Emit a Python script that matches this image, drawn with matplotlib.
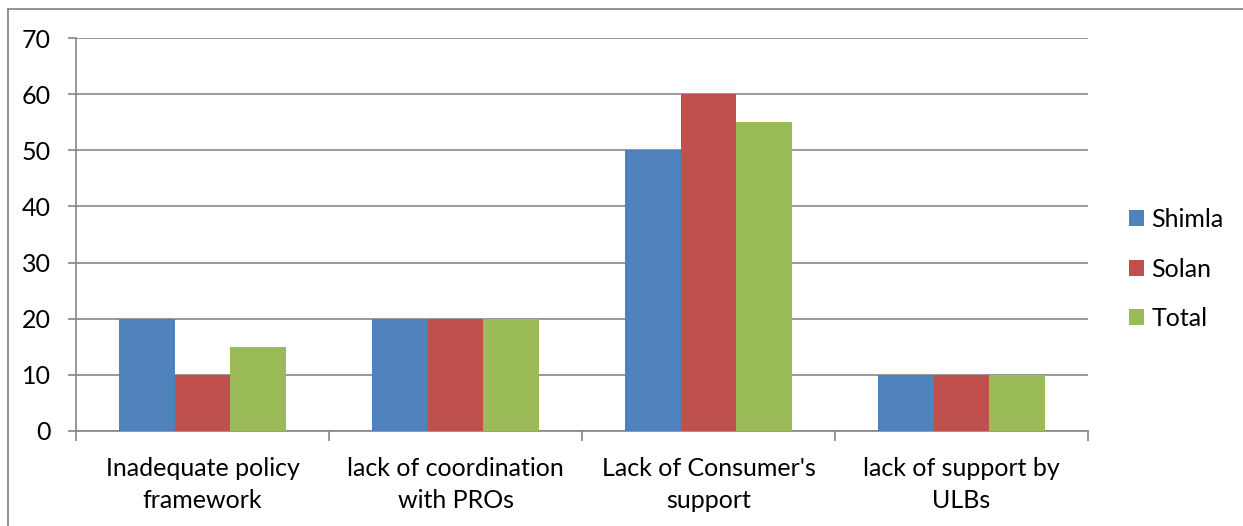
import numpy as np
import matplotlib
matplotlib.use("Agg")
import matplotlib.pyplot as plt
from matplotlib.lines import Line2D

plt.rcParams['font.family'] = ['Lato', 'DejaVu Sans']

categories = ["Inadequate policy\nframework", "lack of coordination\nwith PROs",
              "Lack of Consumer's\nsupport", "lack of support by\nULBs"]
series_names = ["Shimla", "Solan", "Total"]
shimla = [20, 20, 50, 10]
solan = [10, 20, 60, 10]
total = [15, 20, 55, 10]
colors = ["#4F81BD", "#C0504D", "#9BBB59"]
yticks = [0, 10, 20, 30, 40, 50, 60, 70]

W, H = 1243, 526
FS = 18
fig = plt.figure(figsize=(W / 100, H / 100), dpi=100)
fig.patch.set_facecolor("white")

# outer chart frame (left and top edges)
fig.add_artist(Line2D([8 / W, 8 / W], [0, 1 - 9 / H], color="#7f7f7f", lw=1.2,
                      transform=fig.transFigure))
fig.add_artist(Line2D([8 / W, 1], [1 - 9 / H, 1 - 9 / H], color="#7f7f7f", lw=1.2,
                      transform=fig.transFigure))

ax = fig.add_axes([76 / W, 1 - 431 / H, (1088 - 76) / W, (431 - 38) / H])

x = np.arange(len(categories))
bw = 0.221
for i, (vals, name) in enumerate(zip([shimla, solan, total], series_names)):
    ax.bar(x + (i - 1) * bw, vals, width=bw, color=colors[i], label=name, zorder=3)

ax.set_xlim(-0.5, len(categories) - 0.5)
ax.set_ylim(0, 70)
ax.set_yticks(yticks)
ax.set_yticklabels([str(v) for v in yticks], fontsize=FS)
ax.yaxis.grid(True, color="#868686", lw=1.2, zorder=0)
ax.set_axisbelow(True)

ax.set_xticks(x)
ax.set_xticklabels(categories, fontsize=FS, linespacing=1.46)
ax.tick_params(axis="x", length=0, pad=19)
ax.set_xticks(np.arange(-0.5, len(categories)), minor=True)
ax.tick_params(axis="x", which="minor", length=7, color="#868686", width=1.2)
ax.tick_params(axis="y", length=6, color="#868686", width=1.2, pad=12)

for s in ["top", "right"]:
    ax.spines[s].set_visible(False)
for s in ["left", "bottom"]:
    ax.spines[s].set_color("#868686")
    ax.spines[s].set_linewidth(1.2)

leg = ax.legend(loc="center left", bbox_to_anchor=(1.041, 0.412), frameon=False,
                fontsize=FS, handlelength=0.6, handleheight=0.6,
                handletextpad=0.28, labelspacing=1.06, borderpad=0, borderaxespad=0)

fig.savefig("out.png", dpi=100, facecolor="white")
